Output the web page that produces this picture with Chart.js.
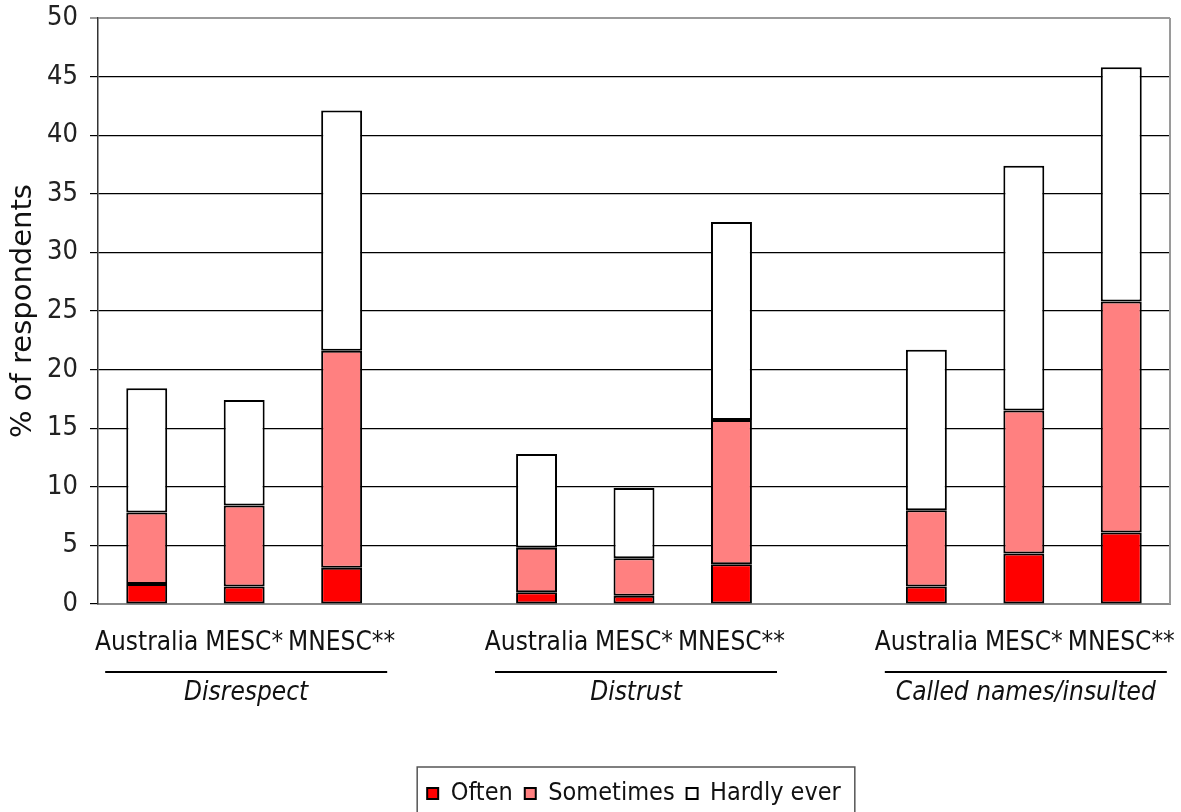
<!DOCTYPE html>
<html>
<head>
<meta charset="utf-8">
<script src="https://cdn.jsdelivr.net/npm/chart.js@4/dist/chart.umd.min.js"></script>
<style>
  html, body { margin: 0; padding: 0; background: #fff; }
  canvas { display: block; }
</style>
</head>
<body>
<canvas id="chart" width="1181" height="812"></canvas>
<script>
// Categories: three country groups per item, with an empty slot between items
const categories = ['Australia', 'MESC*', 'MNESC**', '',
                    'Australia', 'MESC*', 'MNESC**', '',
                    'Australia', 'MESC*', 'MNESC**'];
const groupNames = ['Disrespect', 'Distrust', 'Called names/insulted'];
const groupMiddleIndex = [1, 5, 9];

// Share of respondents (%) per frequency, stacked
const often       = [1.7, 1.5, 3.1, null, 1.0, 0.7, 3.4, null, 1.5, 4.3, 6.1];
const sometimes   = [6.1, 6.9, 18.5, null, 3.8, 3.2, 12.3, null, 6.5, 12.2, 19.7];
const hardlyEver  = [10.6, 9.0, 20.5, null, 8.0, 6.0, 16.9, null, 13.7, 20.9, 20.0];

const yTicks = [0, 5, 10, 15, 20, 25, 30, 35, 40, 45, 50];

const NARROW = "'DejaVu Sans Condensed', 'Liberation Sans Narrow', 'Roboto', sans-serif";
const WIDE = "'DejaVu Sans', 'Open Sans', sans-serif";

// Group captions with rules under the country labels, plus frame edges
const groupCaptions = {
  id: 'groupCaptions',
  afterDraw(chart) {
    const { ctx, chartArea } = chart;
    const x = chart.scales.x;
    ctx.save();
    // right frame edge
    ctx.strokeStyle = '#9a9a9a';
    ctx.lineWidth = 2;
    ctx.beginPath();
    ctx.moveTo(chartArea.right, chartArea.top);
    ctx.lineTo(chartArea.right, chartArea.bottom);
    ctx.stroke();

    groupNames.forEach((name, i) => {
      const cx = x.getPixelForValue(groupMiddleIndex[i]);
      ctx.strokeStyle = '#000';
      ctx.lineWidth = 2;
      ctx.beginPath();
      ctx.moveTo(cx - 139, chartArea.bottom + 68);
      ctx.lineTo(cx + 143, chartArea.bottom + 68);
      ctx.stroke();
      ctx.fillStyle = '#111';
      ctx.font = "italic 26px " + NARROW;
      ctx.textAlign = 'center';
      ctx.textBaseline = 'middle';
      ctx.fillText(name, cx + 2, chartArea.bottom + 89);
    });

    // frame around the legend
    const lg = chart.legend;
    if (lg && lg.legendHitBoxes && lg.legendHitBoxes.length) {
      const boxes = lg.legendHitBoxes;
      const l = Math.min(...boxes.map(b => b.left)) - 10;
      const r = Math.max(...boxes.map(b => b.left + b.width)) + 14;
      const t = Math.min(...boxes.map(b => b.top)) - 14;
      ctx.strokeStyle = '#555';
      ctx.lineWidth = 1.5;
      ctx.strokeRect(l, t, r - l, chart.height + 10 - t);
    }
    ctx.restore();
  }
};

const makeSet = (label, data, color) => ({
  label, data,
  backgroundColor: color,
  borderColor: '#000',
  borderWidth: 2,
  borderSkipped: false,
  categoryPercentage: 1,
  barPercentage: 0.42
});

new Chart(document.getElementById('chart'), {
  type: 'bar',
  data: {
    labels: categories,
    datasets: [
      makeSet('Often', often, '#ff0000'),
      makeSet('Sometimes', sometimes, '#ff8080'),
      makeSet('Hardly ever', hardlyEver, '#ffffff')
    ]
  },
  options: {
    responsive: false,
    animation: false,
    layout: { padding: { left: 0, right: 11, top: 18, bottom: -4 } },
    plugins: {
      legend: {
        position: 'bottom',
        fullSize: false,
        labels: {
          font: { family: NARROW, size: 25 },
          color: '#111',
          boxWidth: 11,
          boxHeight: 11,
          padding: 12
        }
      },
      tooltip: { enabled: false }
    },
    scales: {
      x: {
        stacked: true,
        grid: { display: false },
        border: { color: '#8a8a8a', width: 2 },
        ticks: {
          autoSkip: false,
          maxRotation: 0,
          padding: 16,
          color: '#111',
          font: { family: NARROW, size: 26 }
        },
        afterFit(scale) {
          scale.height = 165;
          scale.paddingLeft = 0;
          scale.paddingRight = 0;
        }
      },
      y: {
        stacked: true,
        min: 0,
        max: 50,
        afterBuildTicks(scale) { scale.ticks = yTicks.map(v => ({ value: v })); },
        ticks: {
          padding: 12,
          color: '#222',
          font: { family: NARROW, size: 27 }
        },
        grid: {
          color: ctx => (ctx.tick && ctx.tick.value === 50) ? '#9a9a9a' : '#000',
          lineWidth: ctx => (ctx.tick && ctx.tick.value === 50) ? 2 : 1.2,
          tickLength: 8
        },
        border: { color: '#333', width: 1.5 },
        title: {
          display: true,
          text: '% of respondents',
          color: '#111',
          font: { family: WIDE, size: 29 },
          padding: { top: 6, bottom: 0 }
        },
        afterFit(scale) {
          scale.width = 98;
          scale.paddingTop = 0;
          scale.paddingBottom = 0;
        }
      }
    }
  },
  plugins: [groupCaptions]
});
</script>
</body>
</html>
